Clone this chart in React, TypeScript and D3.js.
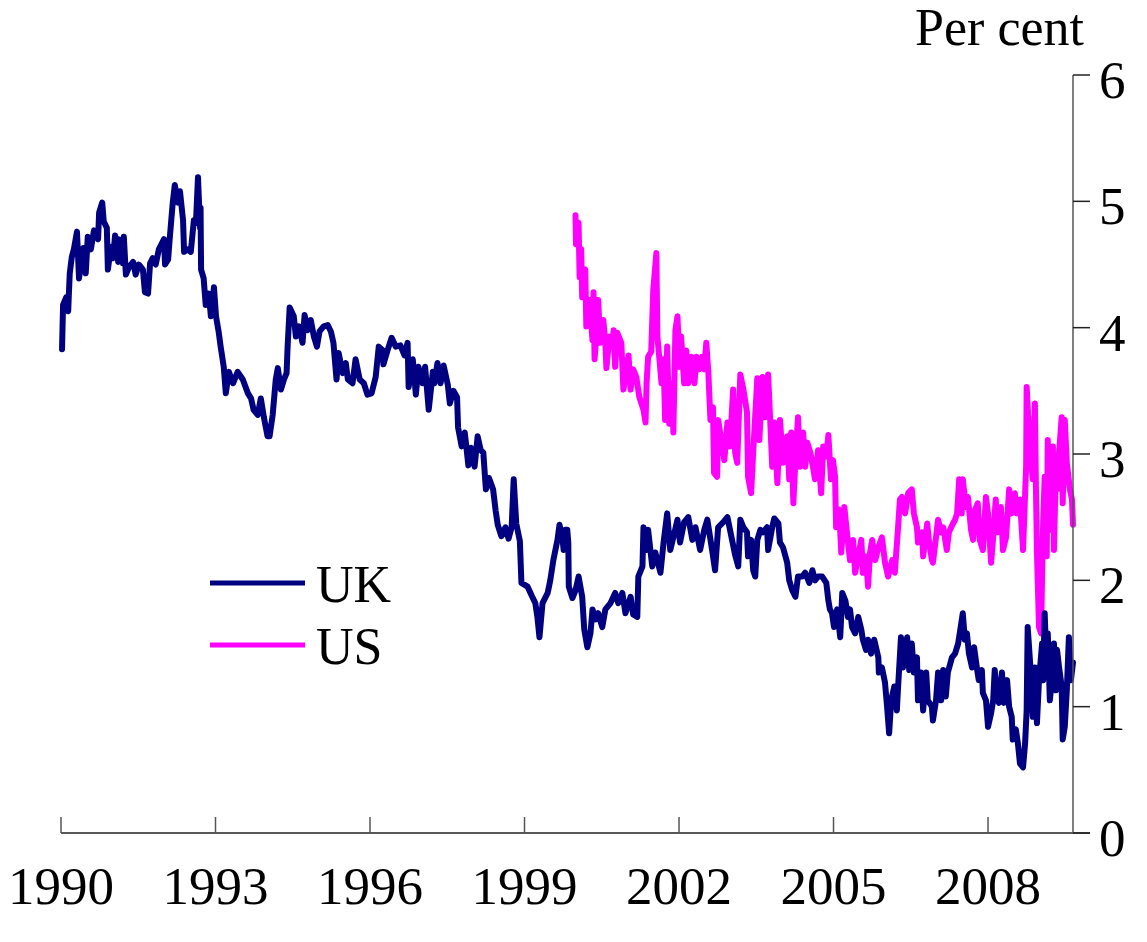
import * as d3 from "d3";

// Rates in per cent as [decimal year, value]
const ukSeries: [number, number][] = [
	[1990.02, 3.83], [1990.04, 4.18], [1990.1, 4.24], [1990.14, 4.13], [1990.15, 4.24], [1990.17, 4.43],
	[1990.21, 4.56], [1990.25, 4.62], [1990.31, 4.76], [1990.35, 4.39], [1990.43, 4.63], [1990.48, 4.43],
	[1990.52, 4.72], [1990.58, 4.62], [1990.64, 4.77], [1990.72, 4.7], [1990.74, 4.91], [1990.8, 4.99],
	[1990.83, 4.84], [1990.89, 4.79], [1990.91, 4.46], [1990.97, 4.64], [1991.01, 4.55], [1991.05, 4.73],
	[1991.11, 4.52], [1991.12, 4.7], [1991.2, 4.51], [1991.22, 4.72], [1991.26, 4.42], [1991.32, 4.48],
	[1991.4, 4.52], [1991.45, 4.42], [1991.51, 4.5], [1991.59, 4.46], [1991.63, 4.28], [1991.69, 4.27],
	[1991.73, 4.51], [1991.78, 4.55], [1991.84, 4.5], [1991.9, 4.62], [1992.0, 4.7], [1992.02, 4.5],
	[1992.08, 4.54], [1992.11, 4.7], [1992.17, 4.99], [1992.21, 5.13], [1992.27, 4.99], [1992.31, 5.08],
	[1992.37, 4.85], [1992.39, 4.6], [1992.46, 4.62], [1992.52, 4.6], [1992.58, 4.85], [1992.62, 4.83],
	[1992.66, 5.19], [1992.7, 4.79], [1992.71, 4.95], [1992.72, 4.46], [1992.77, 4.39], [1992.81, 4.18],
	[1992.87, 4.27], [1992.91, 4.09], [1992.97, 4.32], [1993.01, 4.09], [1993.06, 3.97], [1993.1, 3.85],
	[1993.16, 3.69], [1993.2, 3.48], [1993.26, 3.65], [1993.34, 3.56], [1993.43, 3.65], [1993.53, 3.59],
	[1993.63, 3.48], [1993.69, 3.44], [1993.74, 3.35], [1993.82, 3.31], [1993.88, 3.44], [1993.94, 3.29],
	[1994.01, 3.14], [1994.05, 3.14], [1994.11, 3.31], [1994.17, 3.59], [1994.21, 3.68], [1994.27, 3.51],
	[1994.33, 3.59], [1994.38, 3.64], [1994.4, 3.85], [1994.44, 4.16], [1994.52, 4.09], [1994.56, 3.93],
	[1994.62, 4.01], [1994.69, 3.88], [1994.73, 4.1], [1994.79, 3.98], [1994.85, 4.06], [1994.91, 3.93],
	[1994.97, 3.85], [1995.02, 3.97], [1995.1, 4.01], [1995.18, 4.02], [1995.24, 3.97], [1995.29, 3.88],
	[1995.35, 3.59], [1995.39, 3.8], [1995.47, 3.64], [1995.53, 3.72], [1995.57, 3.59], [1995.66, 3.56],
	[1995.72, 3.75], [1995.8, 3.59], [1995.88, 3.56], [1995.95, 3.47], [1996.03, 3.48], [1996.11, 3.61],
	[1996.17, 3.85], [1996.25, 3.82], [1996.26, 3.71], [1996.34, 3.82], [1996.42, 3.92], [1996.5, 3.85],
	[1996.59, 3.86], [1996.67, 3.78], [1996.73, 3.88], [1996.75, 3.53], [1996.83, 3.75], [1996.85, 3.67],
	[1996.89, 3.47], [1996.94, 3.69], [1997.02, 3.56], [1997.07, 3.69], [1997.14, 3.35], [1997.22, 3.65],
	[1997.25, 3.56], [1997.31, 3.72], [1997.37, 3.56], [1997.43, 3.7], [1997.51, 3.55], [1997.55, 3.4],
	[1997.62, 3.5], [1997.69, 3.45], [1997.71, 3.21], [1997.78, 3.06], [1997.81, 3.14], [1997.84, 3.17],
	[1997.91, 2.91], [1997.96, 3.05], [1998.03, 2.9], [1998.09, 3.14], [1998.15, 3.03], [1998.2, 3.01],
	[1998.25, 2.72], [1998.31, 2.81], [1998.39, 2.72], [1998.44, 2.55], [1998.48, 2.44], [1998.55, 2.35],
	[1998.63, 2.42], [1998.69, 2.33], [1998.75, 2.42], [1998.79, 2.8], [1998.84, 2.45], [1998.91, 2.31],
	[1998.94, 1.98], [1999.06, 1.95], [1999.15, 1.87], [1999.21, 1.82], [1999.25, 1.71], [1999.29, 1.55],
	[1999.35, 1.82], [1999.45, 1.9], [1999.5, 2.0], [1999.56, 2.16], [1999.64, 2.32], [1999.68, 2.44],
	[1999.74, 2.32], [1999.76, 2.24], [1999.79, 2.4], [1999.83, 2.4], [1999.85, 2.3], [1999.86, 1.95],
	[1999.93, 1.86], [1999.99, 1.92], [2000.05, 2.03], [2000.12, 1.87], [2000.16, 1.61], [2000.22, 1.47],
	[2000.28, 1.58], [2000.32, 1.77], [2000.38, 1.69], [2000.43, 1.74], [2000.51, 1.63], [2000.57, 1.77],
	[2000.67, 1.82], [2000.76, 1.9], [2000.82, 1.82], [2000.9, 1.9], [2000.96, 1.74], [2001.06, 1.87],
	[2001.11, 1.73], [2001.19, 1.71], [2001.21, 2.03], [2001.29, 2.11], [2001.31, 2.42], [2001.37, 2.24],
	[2001.4, 2.4], [2001.48, 2.11], [2001.54, 2.22], [2001.64, 2.06], [2001.7, 2.3], [2001.77, 2.53],
	[2001.83, 2.24], [2001.89, 2.34], [2001.97, 2.48], [2002.02, 2.3], [2002.1, 2.46], [2002.18, 2.5],
	[2002.26, 2.32], [2002.32, 2.42], [2002.41, 2.24], [2002.49, 2.4], [2002.55, 2.48], [2002.65, 2.22],
	[2002.7, 2.08], [2002.76, 2.42], [2002.86, 2.46], [2002.94, 2.5], [2002.99, 2.4], [2003.09, 2.2],
	[2003.15, 2.11], [2003.19, 2.48], [2003.25, 2.42], [2003.32, 2.38], [2003.34, 2.19], [2003.4, 2.32],
	[2003.44, 2.08], [2003.48, 2.03], [2003.52, 2.32], [2003.58, 2.4], [2003.63, 2.38], [2003.71, 2.42],
	[2003.73, 2.24], [2003.81, 2.42], [2003.85, 2.49], [2003.93, 2.45], [2003.96, 2.3], [2004.02, 2.26],
	[2004.1, 2.14], [2004.14, 2.0], [2004.2, 1.92], [2004.26, 1.87], [2004.31, 2.03], [2004.39, 2.03],
	[2004.45, 2.06], [2004.53, 1.98], [2004.59, 2.08], [2004.64, 2.0], [2004.7, 2.03], [2004.78, 2.03],
	[2004.86, 1.98], [2004.9, 1.84], [2004.93, 1.77], [2004.97, 1.74], [2005.01, 1.63], [2005.07, 1.77],
	[2005.13, 1.55], [2005.17, 1.9], [2005.23, 1.84], [2005.28, 1.71], [2005.32, 1.77], [2005.36, 1.63],
	[2005.42, 1.58], [2005.48, 1.71], [2005.54, 1.61], [2005.57, 1.53], [2005.63, 1.45], [2005.67, 1.53],
	[2005.73, 1.42], [2005.79, 1.53], [2005.87, 1.39], [2005.88, 1.27], [2005.94, 1.31], [2006.0, 1.19],
	[2006.04, 1.0], [2006.08, 0.79], [2006.12, 1.05], [2006.18, 1.16], [2006.23, 0.97], [2006.25, 1.13],
	[2006.31, 1.55], [2006.35, 1.31], [2006.43, 1.55], [2006.47, 1.29], [2006.52, 1.5], [2006.56, 1.27],
	[2006.62, 1.39], [2006.64, 1.05], [2006.7, 1.27], [2006.74, 0.97], [2006.8, 1.27], [2006.83, 1.05],
	[2006.91, 1.0], [2006.93, 0.89], [2006.99, 1.05], [2007.03, 1.27], [2007.09, 1.05], [2007.13, 1.29],
	[2007.18, 1.08], [2007.22, 1.27], [2007.3, 1.39], [2007.36, 1.42], [2007.42, 1.5], [2007.47, 1.63],
	[2007.51, 1.74], [2007.55, 1.53], [2007.59, 1.58], [2007.63, 1.42], [2007.69, 1.31], [2007.73, 1.47],
	[2007.79, 1.29], [2007.82, 1.21], [2007.88, 1.29], [2007.9, 1.11], [2007.96, 1.05], [2008.0, 0.84],
	[2008.06, 0.95], [2008.1, 1.05], [2008.13, 1.29], [2008.17, 1.08], [2008.21, 1.03], [2008.27, 1.27],
	[2008.31, 1.03], [2008.37, 1.21], [2008.41, 1.0], [2008.46, 0.92], [2008.48, 0.74], [2008.54, 0.82],
	[2008.58, 0.71], [2008.62, 0.55], [2008.68, 0.52], [2008.72, 0.71], [2008.75, 0.97], [2008.77, 1.63],
	[2008.83, 1.27], [2008.87, 0.92], [2008.91, 1.31], [2008.95, 0.87], [2008.99, 1.21], [2009.05, 1.5],
	[2009.07, 1.21], [2009.1, 1.74], [2009.14, 1.29], [2009.16, 1.58], [2009.2, 1.05], [2009.26, 1.29],
	[2009.28, 1.5], [2009.32, 1.13], [2009.34, 1.45], [2009.38, 1.31], [2009.43, 1.16], [2009.45, 0.74],
	[2009.49, 0.84], [2009.53, 1.13], [2009.57, 1.55], [2009.61, 1.21], [2009.65, 1.35],
];

const usSeries: [number, number][] = [
	[1999.99, 4.89], [2000.0, 4.66], [2000.05, 4.83], [2000.07, 4.4], [2000.1, 4.62], [2000.12, 4.24],
	[2000.18, 4.46], [2000.2, 4.01], [2000.26, 4.22], [2000.32, 3.9], [2000.34, 4.28], [2000.36, 3.75],
	[2000.41, 4.01], [2000.43, 4.22], [2000.47, 3.88], [2000.53, 4.06], [2000.57, 3.88], [2000.59, 3.68],
	[2000.65, 3.93], [2000.71, 3.88], [2000.73, 3.98], [2000.76, 3.69], [2000.8, 3.96], [2000.88, 3.88],
	[2000.92, 3.51], [2000.98, 3.67], [2001.02, 3.78], [2001.06, 3.51], [2001.11, 3.67], [2001.17, 3.61],
	[2001.23, 3.45], [2001.31, 3.35], [2001.35, 3.25], [2001.37, 3.56], [2001.4, 3.77], [2001.46, 3.81],
	[2001.5, 4.3], [2001.56, 4.59], [2001.58, 3.93], [2001.62, 3.75], [2001.66, 3.56], [2001.7, 3.75],
	[2001.73, 3.27], [2001.77, 3.85], [2001.81, 3.24], [2001.87, 3.56], [2001.89, 3.17], [2001.93, 3.98],
	[2001.97, 4.09], [2002.01, 3.69], [2002.04, 3.93], [2002.1, 3.56], [2002.14, 3.82], [2002.18, 3.56],
	[2002.24, 3.77], [2002.3, 3.56], [2002.34, 3.77], [2002.39, 3.67], [2002.45, 3.77], [2002.49, 3.67],
	[2002.53, 3.88], [2002.57, 3.64], [2002.61, 3.27], [2002.66, 3.37], [2002.68, 2.85], [2002.74, 2.82],
	[2002.76, 3.27], [2002.84, 3.06], [2002.88, 2.95], [2002.94, 3.25], [2002.99, 3.06], [2003.05, 3.51],
	[2003.09, 3.01], [2003.13, 2.93], [2003.19, 3.63], [2003.25, 3.51], [2003.32, 3.33], [2003.34, 2.82],
	[2003.4, 2.69], [2003.44, 3.01], [2003.52, 3.6], [2003.56, 3.11], [2003.62, 3.61], [2003.67, 3.29],
	[2003.73, 3.63], [2003.77, 3.27], [2003.81, 2.9], [2003.85, 3.25], [2003.91, 2.77], [2003.96, 3.27],
	[2004.02, 2.93], [2004.1, 3.14], [2004.14, 2.8], [2004.18, 3.17], [2004.22, 2.61], [2004.26, 2.95],
	[2004.31, 3.29], [2004.35, 2.9], [2004.41, 3.17], [2004.45, 2.9], [2004.49, 3.09], [2004.55, 3.01],
	[2004.6, 2.9], [2004.64, 2.8], [2004.7, 3.03], [2004.76, 2.69], [2004.8, 3.06], [2004.86, 2.98],
	[2004.9, 3.15], [2004.95, 2.8], [2004.99, 2.95], [2005.03, 2.82], [2005.05, 2.42], [2005.11, 2.56],
	[2005.15, 2.22], [2005.21, 2.58], [2005.26, 2.38], [2005.32, 2.16], [2005.38, 2.32], [2005.42, 2.06],
	[2005.48, 2.19], [2005.54, 2.32], [2005.57, 2.06], [2005.63, 2.19], [2005.67, 1.95], [2005.71, 2.22],
	[2005.75, 2.32], [2005.81, 2.16], [2005.87, 2.26], [2005.94, 2.34], [2006.0, 2.14], [2006.06, 2.03],
	[2006.14, 2.16], [2006.19, 2.06], [2006.25, 2.4], [2006.29, 2.64], [2006.33, 2.66], [2006.39, 2.53],
	[2006.45, 2.69], [2006.52, 2.72], [2006.56, 2.53], [2006.62, 2.42], [2006.64, 2.3], [2006.72, 2.38],
	[2006.74, 2.19], [2006.82, 2.45], [2006.85, 2.32], [2006.91, 2.16], [2006.93, 2.14], [2006.99, 2.34],
	[2007.03, 2.48], [2007.09, 2.38], [2007.13, 2.42], [2007.2, 2.24], [2007.24, 2.38], [2007.32, 2.45],
	[2007.36, 2.48], [2007.4, 2.53], [2007.44, 2.8], [2007.49, 2.53], [2007.51, 2.8], [2007.57, 2.58],
	[2007.61, 2.66], [2007.67, 2.4], [2007.71, 2.32], [2007.75, 2.56], [2007.8, 2.61], [2007.84, 2.32],
	[2007.9, 2.24], [2007.96, 2.66], [2008.0, 2.53], [2008.06, 2.14], [2008.1, 2.34], [2008.15, 2.64],
	[2008.19, 2.38], [2008.25, 2.58], [2008.29, 2.24], [2008.35, 2.34], [2008.41, 2.72], [2008.46, 2.53],
	[2008.52, 2.69], [2008.56, 2.53], [2008.62, 2.64], [2008.68, 2.24], [2008.74, 2.9], [2008.75, 3.53],
	[2008.81, 3.06], [2008.87, 2.8], [2008.91, 3.4], [2008.93, 2.74], [2008.95, 2.22], [2008.99, 1.63],
	[2009.03, 1.58], [2009.05, 2.06], [2009.07, 2.45], [2009.1, 2.82], [2009.14, 2.19], [2009.16, 3.11],
	[2009.22, 2.4], [2009.26, 3.06], [2009.28, 2.24], [2009.32, 2.93], [2009.34, 2.72], [2009.38, 3.01],
	[2009.43, 3.29], [2009.45, 2.61], [2009.49, 3.27], [2009.53, 2.93], [2009.59, 2.72], [2009.63, 2.64],
	[2009.65, 2.44],
];

const yearTicks = [1990, 1993, 1996, 1999, 2002, 2005, 2008];
const rateTicks = [0, 1, 2, 3, 4, 5, 6];

const legendItems = [
	{label: "UK", color: "#000080"},
	{label: "US", color: "#FF00FF"},
];

const W = 1147;
const H = 942;
const font = "'Liberation Serif', 'Times New Roman', serif";

export default function App() {
	const x = d3.scaleLinear().domain([1990, 2009.65]).range([61, 1073]);
	const y = d3.scaleLinear().domain([0, 6]).range([833, 75]);

	const line = d3
		.line<[number, number]>()
		.x((d) => x(d[0]))
		.y((d) => y(d[1]));

	const axisRight = x.range()[1];
	const tickLen = 17;

	return (
		<svg
			width={W}
			height={H}
			viewBox={`0 0 ${W} ${H}`}
			style={{position: "absolute", left: 0, top: 0, background: "#fff"}}
			fontFamily={font}
		>
			{/* series */}
			<path d={line(usSeries) ?? ""} fill="none" stroke="#FF00FF" strokeWidth={6} strokeLinejoin="round" strokeLinecap="round" />
			<path d={line(ukSeries) ?? ""} fill="none" stroke="#000080" strokeWidth={6} strokeLinejoin="round" strokeLinecap="round" />

			{/* bottom axis */}
			<line x1={x(1990)} x2={axisRight + tickLen} y1={y(0)} y2={y(0)} stroke="#222" strokeWidth={1.5} />
			{yearTicks.map((t) => (
				<g key={t}>
					<line x1={x(t)} x2={x(t)} y1={y(0)} y2={y(0) - 16} stroke="#555" strokeWidth={1.5} />
					<text x={x(t)} y={904} fontSize={53} textAnchor="middle" fill="#000">
						{t}
					</text>
				</g>
			))}

			{/* right axis */}
			<line x1={axisRight} x2={axisRight} y1={y(6)} y2={y(0)} stroke="#555" strokeWidth={1.5} />
			{rateTicks.map((t) => (
				<g key={t}>
					<line x1={axisRight} x2={axisRight + tickLen} y1={y(t)} y2={y(t)} stroke="#222" strokeWidth={1.5} />
					<text x={1099} y={y(t) + 23} fontSize={53} fill="#000">
						{t}
					</text>
				</g>
			))}
			<text x={1084} y={45} fontSize={52} textAnchor="end" fill="#000">
				Per cent
			</text>

			{/* legend */}
			{legendItems.map((d, i) => (
				<g key={d.label} transform={`translate(0,${583 + i * 62})`}>
					<line x1={210} x2={305} y1={0} y2={0} stroke={d.color} strokeWidth={5} />
					<text x={316} y={19} fontSize={52} fill="#000">
						{d.label}
					</text>
				</g>
			))}
		</svg>
	);
}
